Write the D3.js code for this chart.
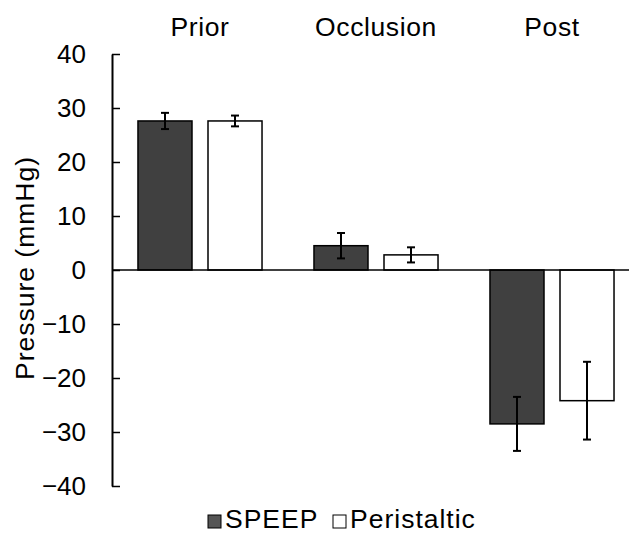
<!DOCTYPE html>
<html>
<head>
<meta charset="utf-8">
<script src="https://cdn.jsdelivr.net/npm/d3@7"></script>
<style>
  body { margin: 0; background: #fff; overflow: hidden; }
  svg { display: block; }
  text { font-family: "Liberation Sans", Arial, sans-serif; fill: #000; }
</style>
</head>
<body>
<div id="chart"></div>
<script>
// data
var phases = ["Prior", "Occlusion", "Post"];
var series = ["SPEEP", "Peristaltic"];
var speepMean = [27.6, 4.5, -28.5];
var speepErr = [1.5, 2.35, 5.0];
var peristalticMean = [27.6, 2.8, -24.2];
var peristalticErr = [1.0, 1.4, 7.2];
var yTicks = [-40, -30, -20, -10, 0, 10, 20, 30, 40];
var colors = { SPEEP: "#404040", Peristaltic: "#ffffff" };
var legendColors = { SPEEP: "#555555", Peristaltic: "#ffffff" };

var width = 629, height = 533;

var rows = [];
phases.forEach(function(p, i){
  rows.push({ phase: p, series: "SPEEP", mean: speepMean[i], err: speepErr[i] });
  rows.push({ phase: p, series: "Peristaltic", mean: peristalticMean[i], err: peristalticErr[i] });
});

var svg = d3.select("#chart").append("svg")
    .attr("width", width)
    .attr("height", height);

var x0 = d3.scaleBand().domain(phases).range([112, 640]);
var x1 = d3.scaleBand().domain(series).range([0, x0.bandwidth()])
    .paddingInner(0.2286).paddingOuter(0.371);
var y = d3.scaleLinear().domain([-40, 40]).range([486, 54]);

var cx = function(d){ return x0(d.phase) + x1(d.series) + x1.bandwidth() / 2; };

// bars
svg.append("g").selectAll("rect")
    .data(rows)
    .enter()
    .append("rect")
    .attr("x", function(d){ return x0(d.phase) + x1(d.series); })
    .attr("y", function(d){ return Math.min(y(d.mean), y(0)); })
    .attr("width", x1.bandwidth())
    .attr("height", function(d){ return Math.abs(y(d.mean) - y(0)); })
    .attr("fill", function(d){ return colors[d.series]; })
    .attr("stroke", "#000")
    .attr("stroke-width", 1.5);

// zero line
svg.append("line")
    .attr("x1", 112).attr("x2", width)
    .attr("y1", y(0)).attr("y2", y(0))
    .attr("stroke", "#000").attr("stroke-width", 1.5);

// error bars
var eb = svg.append("g").selectAll("g")
    .data(rows)
    .enter()
    .append("g")
    .attr("stroke", "#000")
    .attr("stroke-width", 2);
eb.append("line")
    .attr("x1", cx).attr("x2", cx)
    .attr("y1", function(d){ return y(d.mean + d.err); })
    .attr("y2", function(d){ return y(d.mean - d.err); });
[1, -1].forEach(function(s){
  eb.append("line")
    .attr("x1", function(d){ return cx(d) - 4; })
    .attr("x2", function(d){ return cx(d) + 4; })
    .attr("y1", function(d){ return y(d.mean + s * d.err); })
    .attr("y2", function(d){ return y(d.mean + s * d.err); });
});

// y axis, ticks pointing inward
var yAxis = svg.append("g")
    .attr("transform", "translate(112,0)")
    .call(d3.axisLeft(y).tickValues(yTicks).tickSizeInner(-8).tickSizeOuter(0).tickPadding(26));
yAxis.select(".domain").attr("stroke-width", 2);
yAxis.selectAll(".tick line").attr("stroke-width", 1.5);
yAxis.selectAll("text")
    .style("font-size", "26px")
    .style("font-family", "Liberation Sans, Arial, sans-serif")
    .attr("fill", "#000");

// y title
svg.append("text")
    .attr("transform", "translate(34,268) rotate(-90)")
    .attr("text-anchor", "middle")
    .style("font-size", "26.5px")
    .style("letter-spacing", "1px")
    .text("Pressure (mmHg)");

// phase labels on top
svg.append("g").selectAll("text")
    .data(phases)
    .enter()
    .append("text")
    .attr("x", function(d){ return x0(d) + x0.bandwidth() / 2; })
    .attr("y", 36)
    .attr("text-anchor", "middle")
    .style("font-size", "26.5px")
    .style("letter-spacing", "0.6px")
    .text(function(d){ return d; });

// legend
var legendX = [208, 333];
var lg = svg.append("g").selectAll("g")
    .data(series)
    .enter()
    .append("g")
    .attr("transform", function(d, i){ return "translate(" + legendX[i] + ",515)"; });
lg.append("rect")
    .attr("width", 13).attr("height", 13)
    .attr("fill", function(d){ return legendColors[d]; })
    .attr("stroke", "#000")
    .attr("stroke-width", 1);
lg.append("text")
    .attr("x", 17).attr("y", 12.5)
    .style("font-size", "26.5px")
    .style("letter-spacing", "1px")
    .text(function(d){ return d; });
</script>
</body>
</html>
